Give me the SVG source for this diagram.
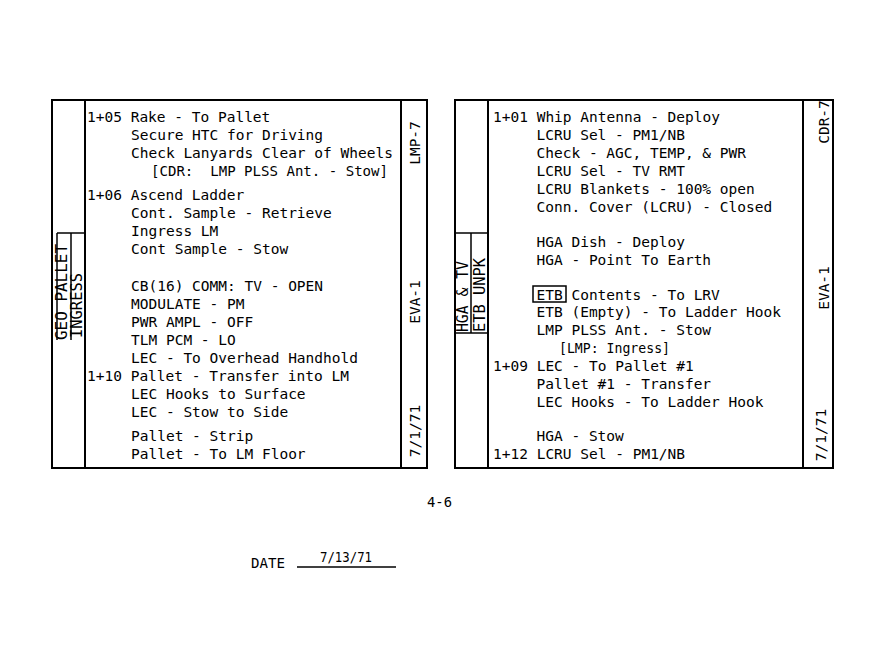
<svg xmlns="http://www.w3.org/2000/svg" width="870" height="654" viewBox="0 0 870 654">
<style>
.t{font-family:"DejaVu Sans Mono","Liberation Mono",monospace;font-size:14.5px;fill:#000;white-space:pre}
.r{font-family:"DejaVu Sans Mono","Liberation Mono",monospace;font-size:14.5px;fill:#000;text-anchor:middle}
.l{font-family:"DejaVu Sans Mono","Liberation Mono",monospace;font-size:15px;fill:#000}
.b{fill:none;stroke:#000;stroke-width:2}
.s{fill:none;stroke:#000;stroke-width:1.5}
</style>
<rect width="870" height="654" fill="#fff"/>
<g id="left-panel">
  <rect class="b" x="52" y="100" width="375" height="368"/>
  <line class="b" x1="85" y1="100" x2="85" y2="468"/>
  <line class="b" x1="401" y1="100" x2="401" y2="468"/>
  <line class="s" x1="57" y1="233" x2="85" y2="233"/>
  <line class="s" x1="57" y1="233" x2="57" y2="340"/>
  <line class="s" x1="71" y1="233" x2="71" y2="340"/>
  <text class="l" transform="translate(67,340) rotate(-90)" textLength="96" lengthAdjust="spacingAndGlyphs">GEO PALLET</text>
  <text class="l" transform="translate(82,338) rotate(-90)" textLength="65" lengthAdjust="spacingAndGlyphs">INGRESS</text>
  <text class="r" transform="translate(420,143) rotate(-90)">LMP-7</text>
  <text class="r" transform="translate(420,302) rotate(-90)">EVA-1</text>
  <text class="r" transform="translate(420,431) rotate(-90)">7/1/71</text>
  <text class="t" x="87" y="122">1+05 Rake - To Pallet</text>
  <text class="t" x="131" y="140">Secure HTC for Driving</text>
  <text class="t" x="131" y="158">Check Lanyards Clear of Wheels</text>
  <text class="t" x="151" y="176" xml:space="preserve" textLength="237" lengthAdjust="spacingAndGlyphs">[CDR:  LMP PLSS Ant. - Stow]</text>
  <text class="t" x="87" y="200">1+06 Ascend Ladder</text>
  <text class="t" x="131" y="218">Cont. Sample - Retrieve</text>
  <text class="t" x="131" y="236">Ingress LM</text>
  <text class="t" x="131" y="254">Cont Sample - Stow</text>
  <text class="t" x="131" y="291">CB(16) COMM: TV - OPEN</text>
  <text class="t" x="131" y="309">MODULATE - PM</text>
  <text class="t" x="131" y="327">PWR AMPL - OFF</text>
  <text class="t" x="131" y="345">TLM PCM - LO</text>
  <text class="t" x="131" y="363">LEC - To Overhead Handhold</text>
  <text class="t" x="87" y="381">1+10 Pallet - Transfer into LM</text>
  <text class="t" x="131" y="399">LEC Hooks to Surface</text>
  <text class="t" x="131" y="417">LEC - Stow to Side</text>
  <text class="t" x="131" y="441">Pallet - Strip</text>
  <text class="t" x="131" y="459">Pallet - To LM Floor</text>
</g>
<g id="right-panel">
  <rect class="b" x="455" y="100" width="378" height="368"/>
  <line class="b" x1="488" y1="100" x2="488" y2="468"/>
  <line class="b" x1="803" y1="100" x2="803" y2="468"/>
  <line class="s" x1="455" y1="233" x2="488" y2="233"/>
  <line class="s" x1="455" y1="333" x2="488" y2="333"/>
  <line class="s" x1="471" y1="233" x2="471" y2="333"/>
  <text class="l" transform="translate(468,332) rotate(-90)" textLength="71" lengthAdjust="spacingAndGlyphs">HGA &amp; TV</text>
  <text class="l" transform="translate(485,332) rotate(-90)" textLength="74" lengthAdjust="spacingAndGlyphs">ETB UNPK</text>
  <text class="r" transform="translate(829,122) rotate(-90)">CDR-7</text>
  <text class="r" transform="translate(829,288) rotate(-90)">EVA-1</text>
  <text class="r" transform="translate(826,435) rotate(-90)">7/1/71</text>
  <text class="t" x="493" y="122">1+01 Whip Antenna - Deploy</text>
  <text class="t" x="536.5" y="140">LCRU Sel - PM1/NB</text>
  <text class="t" x="536.5" y="158">Check - AGC, TEMP, &amp; PWR</text>
  <text class="t" x="536.5" y="176">LCRU Sel - TV RMT</text>
  <text class="t" x="536.5" y="194">LCRU Blankets - 100% open</text>
  <text class="t" x="536.5" y="211.5">Conn. Cover (LCRU) - Closed</text>
  <text class="t" x="536.5" y="247">HGA Dish - Deploy</text>
  <text class="t" x="536.5" y="265">HGA - Point To Earth</text>
  <rect class="s" x="533" y="286" width="33" height="16"/>
  <text class="t" x="536.5" y="299.5">ETB Contents - To LRV</text>
  <text class="t" x="536.5" y="317">ETB (Empty) - To Ladder Hook</text>
  <text class="t" x="536.5" y="335">LMP PLSS Ant. - Stow</text>
  <text class="t" x="559" y="353" textLength="111" lengthAdjust="spacingAndGlyphs">[LMP: Ingress]</text>
  <text class="t" x="493" y="370.5">1+09 LEC - To Pallet #1</text>
  <text class="t" x="536.5" y="388.5">Pallet #1 - Transfer</text>
  <text class="t" x="536.5" y="406.5">LEC Hooks - To Ladder Hook</text>
  <text class="t" x="536.5" y="441">HGA - Stow</text>
  <text class="t" x="493" y="459">1+12 LCRU Sel - PM1/NB</text>
</g>
<g id="footer">
  <text class="t" x="427" y="507" textLength="25" lengthAdjust="spacingAndGlyphs">4-6</text>
  <text class="t" x="251" y="568" textLength="34" lengthAdjust="spacingAndGlyphs">DATE</text>
  <line class="s" x1="297" y1="567" x2="396" y2="567"/>
  <text class="t" x="320" y="562" textLength="52" lengthAdjust="spacingAndGlyphs">7/13/71</text>
</g>
</svg>
